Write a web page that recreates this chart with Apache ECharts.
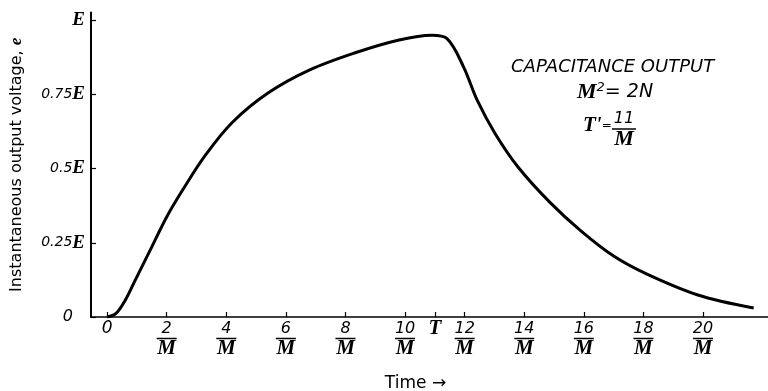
<!DOCTYPE html>
<html>
<head>
<meta charset="utf-8">
<script src="https://cdn.jsdelivr.net/npm/echarts@6/dist/echarts.min.js"></script>
<style>
  html, body { margin: 0; padding: 0; background: #fff; }
  #chart { width: 768px; height: 391px; }
</style>
</head>
<body>
<div id="chart"></div>
<script>
// time in units of 1/M, output voltage as a fraction of E
const timeValues = [0, 0.3, 0.6, 0.9, 1.45, 2.0, 2.55, 3.3, 4.2, 5.4, 6.8, 8.3, 9.8, 10.9, 11.4, 11.95, 12.42, 13.02, 13.79, 14.87, 15.9, 17.0, 18.1, 19.8, 21.7];
const voltageValues = [0, 0.012, 0.055, 0.115, 0.226, 0.337, 0.43, 0.545, 0.655, 0.754, 0.832, 0.889, 0.933, 0.949, 0.938, 0.845, 0.73, 0.618, 0.505, 0.385, 0.29, 0.205, 0.145, 0.075, 0.03];

const xTickValues = [0, 2, 4, 6, 8, 10, 11, 12, 14, 16, 18, 20];
const yTickValues = [0, 0.25, 0.5, 0.75, 1];
const yTickLabels = ['0', '0.25', '0.5', '0.75', ''];

const chart = echarts.init(document.getElementById('chart'));

const serifBold = { fontFamily: 'Liberation Serif', fontStyle: 'italic', fontWeight: 'bold', color: '#000' };
const handText = { fontFamily: 'DejaVu Sans', fontStyle: 'italic', color: '#000' };

function xLabel(v) {
  if (v === 0) return '{z|0}';
  if (v === 11) return '{t|T}';
  return '{n|' + v + '}\n{bar| }\n{m|M}';
}

function yLabel(v) {
  const i = yTickValues.indexOf(v);
  if (v === 1) return '{e|E}';
  if (v === 0) return '{z|0}';
  return '{d|' + yTickLabels[i] + '}{e|E}';
}

const option = {
  backgroundColor: '#fff',
  animation: false,
  grid: { left: 91, right: 0, top: 12.6, bottom: 74, containLabel: false, outerBoundsMode: 'none' },
  xAxis: {
    type: 'value',
    min: -0.54,
    max: 22.18,
    splitLine: { show: false },
    axisLine: { onZero: false, lineStyle: { color: '#000', width: 1.5 } },
    axisTick: { inside: true, length: 5, customValues: xTickValues, lineStyle: { color: '#000', width: 1.2 } },
    axisLabel: {
      customValues: xTickValues,
      margin: 4,
      formatter: xLabel,
      rich: {
        z: Object.assign({}, handText, { fontSize: 17, lineHeight: 16 }),
        t: Object.assign({}, serifBold, { fontSize: 21, lineHeight: 16 }),
        n: Object.assign({}, handText, { fontSize: 16, lineHeight: 16, align: 'center' }),
        bar: { width: 20, height: 1.5, backgroundColor: '#000', fontSize: 1, lineHeight: 3, align: 'center' },
        m: Object.assign({}, serifBold, { fontSize: 21, lineHeight: 18, align: 'center' })
      }
    },
    name: 'Time \u2192',
    nameLocation: 'middle',
    nameGap: 58,
    nameMoveOverlap: false,
    nameTextStyle: { fontFamily: 'DejaVu Sans', fontSize: 17, color: '#000', padding: [0, 28, 0, 0] }
  },
  yAxis: {
    type: 'value',
    min: 0,
    max: 1.025,
    splitLine: { show: false },
    axisLine: { onZero: false, lineStyle: { color: '#000', width: 2 } },
    axisTick: { inside: true, length: 5, customValues: yTickValues, lineStyle: { color: '#000', width: 1.2 } },
    axisLabel: {
      customValues: yTickValues,
      margin: 6,
      formatter: yLabel,
      rich: {
        d: Object.assign({}, handText, { fontSize: 14 }),
        z: Object.assign({}, handText, { fontSize: 16, padding: [0, 12, 0, 0] }),
        e: Object.assign({}, serifBold, { fontSize: 19 })
      }
    },
    name: 'Instantaneous output voltage, {e|e}',
    nameLocation: 'middle',
    nameGap: 66,
    nameMoveOverlap: false,
    nameTextStyle: {
      fontFamily: 'DejaVu Sans', fontSize: 16, color: '#000',
      rich: { e: Object.assign({}, serifBold, { fontSize: 17 }) }
    }
  },
  graphic: [
    {
      type: 'text', left: 511, top: 58,
      style: Object.assign({}, handText, { text: 'CAPACITANCE OUTPUT', fontSize: 18 })
    },
    {
      type: 'text', left: 577, top: 81,
      style: {
        text: '{m|M}{s|2}{r|= 2N}',
        rich: {
          m: Object.assign({}, serifBold, { fontSize: 22 }),
          s: Object.assign({}, handText, { fontSize: 13, verticalAlign: 'top', padding: [0, 0, 8, 0] }),
          r: Object.assign({}, handText, { fontSize: 19 })
        }
      }
    },
    {
      type: 'text', left: 583, top: 115,
      style: {
        text: "{t|T'}{r|=}",
        rich: {
          t: Object.assign({}, serifBold, { fontSize: 21 }),
          r: Object.assign({}, handText, { fontSize: 12 })
        }
      }
    },
    {
      type: 'text', left: 612, top: 111,
      style: {
        text: '{n|11}\n{bar| }\n{m|M}',
        rich: {
          n: Object.assign({}, handText, { fontSize: 16, lineHeight: 17, align: 'center' }),
          bar: { width: 24, height: 1.5, backgroundColor: '#000', fontSize: 1, lineHeight: 3, align: 'center' },
          m: Object.assign({}, serifBold, { fontSize: 22, lineHeight: 18, align: 'center' })
        }
      }
    }
  ],
  series: [
    {
      type: 'line',
      data: timeValues.map((t, i) => [t, voltageValues[i]]),
      smooth: 0.35,
      showSymbol: false,
      lineStyle: { color: '#000', width: 3 }
    }
  ]
};

chart.setOption(option);
</script>
</body>
</html>
